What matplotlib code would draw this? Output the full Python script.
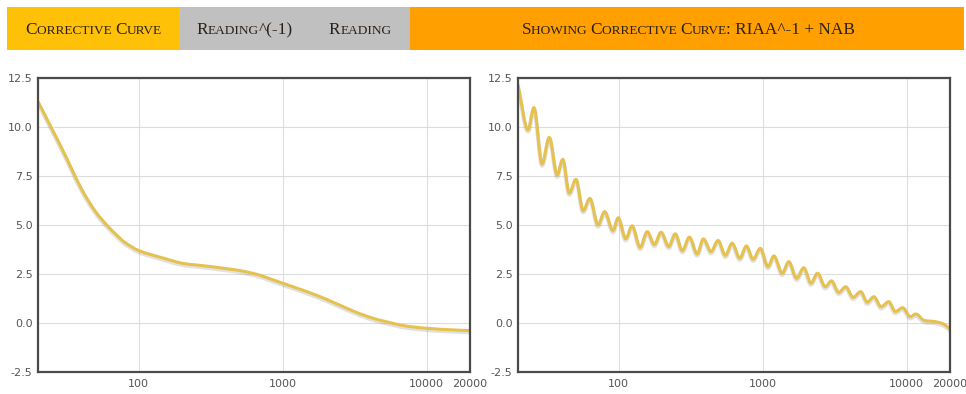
import matplotlib.pyplot as plt
import matplotlib.patheffects as pe
import numpy as np
from matplotlib.path import Path
from matplotlib.patches import PathPatch, Rectangle
from matplotlib.font_manager import FontProperties

W, H = 966, 394

# corrective curve, left panel (Hz, dB)
freq_left = [20, 25, 30, 40, 50, 60, 70, 80, 100, 150, 200, 300, 400, 500,
             600, 700, 800, 1000, 1500, 2000, 3000, 4000, 5000, 7000, 10000,
             15000, 20000]
gain_left = [11.3, 9.9, 8.75, 6.85, 5.7, 5.0, 4.5, 4.12, 3.7, 3.3, 3.05, 2.9,
             2.78, 2.68, 2.56, 2.43, 2.28, 2.03, 1.58, 1.22, 0.65, 0.3, 0.1,
             -0.14, -0.27, -0.35, -0.39]

# RIAA^-1 + NAB, right panel (peaks and troughs)
freq_right = [20, 23.5, 25.8, 29.4, 33.0, 37.4, 40.9, 45.4, 50.5, 56.7, 63.1,
              71.9, 80.0, 91.4, 99.3, 112, 124, 141, 158, 177, 197, 223, 247,
              277, 310, 351, 388, 438, 490, 551, 614, 694, 772, 858, 964,
              1089, 1197, 1368, 1518, 1724, 1928, 2168, 2406, 2720, 3005,
              3374, 3777, 4244, 4797, 5324, 5918, 6650, 7510, 8351, 9380,
              10610, 11590, 13100, 15770, 17990, 20000]
gain_right = [12.14, 9.85, 10.99, 8.11, 9.47, 7.55, 8.35, 6.62, 7.33, 5.73,
              6.36, 5.0, 5.68, 4.71, 5.37, 4.3, 4.96, 3.85, 4.66, 4.0, 4.63,
              3.9, 4.55, 3.69, 4.38, 3.52, 4.29, 3.64, 4.21, 3.45, 4.07, 3.3,
              3.93, 3.25, 3.81, 2.87, 3.42, 2.54, 3.13, 2.28, 2.82, 2.03,
              2.54, 1.85, 2.15, 1.56, 1.85, 1.31, 1.6, 1.06, 1.34, 0.83, 1.09,
              0.58, 0.78, 0.32, 0.46, 0.15, 0.07, -0.05, -0.3]

xticks = [100, 1000, 10000, 20000]
xtick_labels = ['100', '1000', '10000', '20000']
yticks = [-2.5, 0.0, 2.5, 5.0, 7.5, 10.0, 12.5]

buttons = ['Corrective Curve', 'Reading^(-1)', 'Reading']
status = 'Showing Corrective Curve: RIAA^-1 + NAB'

LINE = '#e5c14f'
SERIF = 'Liberation Serif'


def curve_path(freqs, vals):
    # cubic hermite segments in log-frequency space, flat at the turning points
    x = np.log10(freqs)
    y = np.asarray(vals, float)
    n = len(x)
    m = np.zeros(n)
    for i in range(1, n - 1):
        if (y[i] - y[i - 1]) * (y[i + 1] - y[i]) > 0:
            m[i] = (y[i + 1] - y[i - 1]) / (x[i + 1] - x[i - 1])
    m[0] = (y[1] - y[0]) / (x[1] - x[0])
    m[-1] = (y[-1] - y[-2]) / (x[-1] - x[-2])
    verts = [(freqs[0], y[0])]
    codes = [Path.MOVETO]
    for i in range(n - 1):
        d = (x[i + 1] - x[i]) / 3
        verts += [(10 ** (x[i] + d), y[i] + m[i] * d),
                  (10 ** (x[i + 1] - d), y[i + 1] - m[i + 1] * d),
                  (freqs[i + 1], y[i + 1])]
        codes += [Path.CURVE4] * 3
    return Path(verts, codes)


fig = plt.figure(figsize=(W / 100, H / 100), dpi=100)


def px_rect(x0, y0, x1, y1, color):
    fig.add_artist(Rectangle((x0 / W, 1 - y1 / H), (x1 - x0) / W, (y1 - y0) / H,
                             transform=fig.transFigure, color=color, lw=0))


def small_caps(cx, base, s, big=12.4, small=9.6, color='#2b2117'):
    runs = []
    for ch in s:
        t, sz = (ch.upper(), small) if ch.islower() else (ch, big)
        if ch == ' ' and runs:
            runs[-1][0] += ' '
        elif runs and runs[-1][1] == sz:
            runs[-1][0] += t
        else:
            runs.append([t, sz])
    r = fig.canvas.get_renderer()
    widths = []
    for t, sz in runs:
        fp = FontProperties(family=SERIF, size=sz)
        wa = r.get_text_width_height_descent(t + 'x', fp, ismath=False)[0]
        wb = r.get_text_width_height_descent('x', fp, ismath=False)[0]
        widths.append(wa - wb)
    x = cx - sum(widths) / 2
    for (t, sz), w in zip(runs, widths):
        fig.text(x / W, 1 - base / H, t, family=SERIF, size=sz, color=color,
                 ha='left', va='baseline')
        x += w


# button bar
px_rect(7, 7, 179, 50, '#ffc107')
px_rect(179, 7, 410, 50, '#c0c0c0')
px_rect(410, 7, 964, 50, '#ffa000')
small_caps(93.5, 34, buttons[0])
small_caps(244.5, 34, buttons[1])
small_caps(360, 34, buttons[2])
small_caps(688.5, 34, status)

panels = [(38, freq_left, gain_left), (518, freq_right, gain_right)]
for left, freqs, gains in panels:
    ax = fig.add_axes([left / W, (H - 372) / H, 432 / W, 294 / H])
    ax.set_xscale('log')
    ax.set_xlim(20, 20000)
    ax.set_ylim(-2.5, 12.5)
    ax.set_xticks(xticks)
    ax.set_xticklabels(xtick_labels)
    ax.xaxis.set_minor_locator(plt.NullLocator())
    ax.set_yticks(yticks)
    ax.set_yticklabels([f'{v:.1f}' for v in yticks])
    ax.tick_params(length=0, labelsize=8, labelcolor='#555555')
    ax.tick_params(axis='x', pad=5)
    ax.tick_params(axis='y', pad=4)
    ax.grid(True, color='#dddddd', lw=0.8)
    ax.set_axisbelow(True)
    for sp in ax.spines.values():
        sp.set_color('#4a4a4a')
        sp.set_linewidth(1.6)
    patch = PathPatch(curve_path(freqs, gains), fill=False, edgecolor=LINE,
                      lw=2.2, capstyle='round', joinstyle='round')
    patch.set_path_effects([
        pe.SimpleLineShadow(offset=(0, -1.2), shadow_color='#888888',
                            alpha=0.25, linewidth=3.0),
        pe.Normal()])
    ax.add_patch(patch)

fig.savefig('out.png', dpi=100)
